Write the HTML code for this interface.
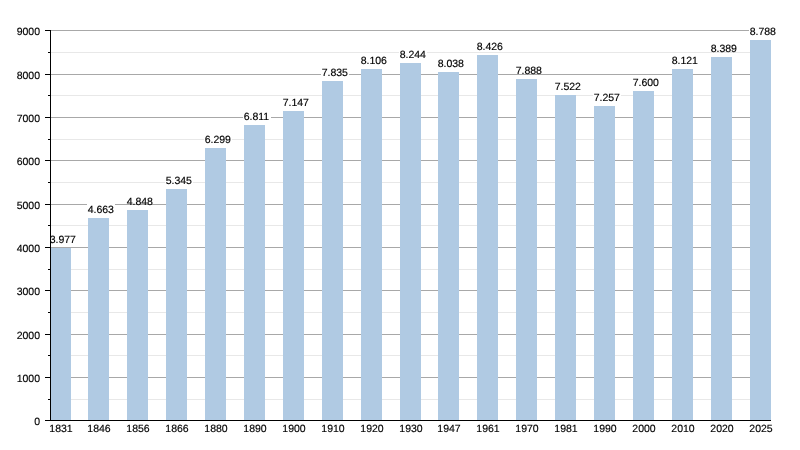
<!DOCTYPE html><html><head><meta charset="utf-8"><style>html,body{margin:0;padding:0;background:#fff;width:800px;height:450px;overflow:hidden}svg{display:block;will-change:transform;}text{text-rendering:geometricPrecision;font-family:"Liberation Sans",sans-serif;font-size:10.5px;fill:#000;stroke:#000;stroke-width:0.15px}</style></head><body>
<svg width="800" height="450" viewBox="0 0 800 450" shape-rendering="crispEdges">
<g>
<defs><clipPath id="pa" clipPathUnits="userSpaceOnUse"><rect x="51" y="0" width="749" height="450"/></clipPath></defs>
<rect x="51" y="399" width="699" height="1" fill="#e8e8e8"/>
<rect x="51" y="377" width="699" height="1" fill="#a8a8a8"/>
<rect x="51" y="355" width="699" height="1" fill="#e8e8e8"/>
<rect x="51" y="334" width="699" height="1" fill="#a8a8a8"/>
<rect x="51" y="312" width="699" height="1" fill="#e8e8e8"/>
<rect x="51" y="290" width="699" height="1" fill="#a8a8a8"/>
<rect x="51" y="269" width="699" height="1" fill="#e8e8e8"/>
<rect x="51" y="247" width="699" height="1" fill="#a8a8a8"/>
<rect x="51" y="225" width="699" height="1" fill="#e8e8e8"/>
<rect x="51" y="204" width="699" height="1" fill="#a8a8a8"/>
<rect x="51" y="182" width="699" height="1" fill="#e8e8e8"/>
<rect x="51" y="160" width="699" height="1" fill="#a8a8a8"/>
<rect x="51" y="139" width="699" height="1" fill="#e8e8e8"/>
<rect x="51" y="117" width="699" height="1" fill="#a8a8a8"/>
<rect x="51" y="95" width="699" height="1" fill="#e8e8e8"/>
<rect x="51" y="74" width="699" height="1" fill="#a8a8a8"/>
<rect x="51" y="52" width="699" height="1" fill="#e8e8e8"/>
<rect x="51" y="30" width="699" height="1" fill="#a8a8a8"/>
<rect x="50" y="248" width="21" height="172" fill="#b0cae3"/>
<rect x="88" y="218" width="21" height="202" fill="#b0cae3"/>
<rect x="127" y="210" width="21" height="210" fill="#b0cae3"/>
<rect x="166" y="189" width="21" height="231" fill="#b0cae3"/>
<rect x="205" y="148" width="21" height="272" fill="#b0cae3"/>
<rect x="244" y="125" width="21" height="295" fill="#b0cae3"/>
<rect x="283" y="111" width="21" height="309" fill="#b0cae3"/>
<rect x="322" y="81" width="21" height="339" fill="#b0cae3"/>
<rect x="361" y="69" width="21" height="351" fill="#b0cae3"/>
<rect x="400" y="63" width="21" height="357" fill="#b0cae3"/>
<rect x="438" y="72" width="21" height="348" fill="#b0cae3"/>
<rect x="477" y="55" width="21" height="365" fill="#b0cae3"/>
<rect x="516" y="79" width="21" height="341" fill="#b0cae3"/>
<rect x="555" y="95" width="21" height="325" fill="#b0cae3"/>
<rect x="594" y="106" width="21" height="314" fill="#b0cae3"/>
<rect x="633" y="91" width="21" height="329" fill="#b0cae3"/>
<rect x="672" y="69" width="21" height="351" fill="#b0cae3"/>
<rect x="711" y="57" width="21" height="363" fill="#b0cae3"/>
<rect x="750" y="40" width="21" height="380" fill="#b0cae3"/>
<rect x="49" y="234" width="28" height="8" fill="#fff"/>
<text x="49.70" y="243.00" clip-path="url(#pa)">3.977</text>
<text x="61.00" y="432.00" text-anchor="middle">1831</text>
<rect x="87" y="204" width="28" height="8" fill="#fff"/>
<text x="87.70" y="213.00" clip-path="url(#pa)">4.663</text>
<text x="99.00" y="432.00" text-anchor="middle">1846</text>
<rect x="126" y="196" width="28" height="8" fill="#fff"/>
<text x="126.70" y="205.00" clip-path="url(#pa)">4.848</text>
<text x="138.00" y="432.00" text-anchor="middle">1856</text>
<rect x="165" y="175" width="28" height="8" fill="#fff"/>
<text x="165.70" y="184.00" clip-path="url(#pa)">5.345</text>
<text x="177.00" y="432.00" text-anchor="middle">1866</text>
<rect x="204" y="134" width="28" height="8" fill="#fff"/>
<text x="204.70" y="143.00" clip-path="url(#pa)">6.299</text>
<text x="216.00" y="432.00" text-anchor="middle">1880</text>
<rect x="243" y="111" width="28" height="8" fill="#fff"/>
<text x="243.70" y="120.00" clip-path="url(#pa)">6.811</text>
<text x="255.00" y="432.00" text-anchor="middle">1890</text>
<rect x="282" y="97" width="28" height="8" fill="#fff"/>
<text x="282.70" y="106.00" clip-path="url(#pa)">7.147</text>
<text x="294.00" y="432.00" text-anchor="middle">1900</text>
<rect x="321" y="67" width="28" height="8" fill="#fff"/>
<text x="321.70" y="76.00" clip-path="url(#pa)">7.835</text>
<text x="333.00" y="432.00" text-anchor="middle">1910</text>
<rect x="360" y="55" width="28" height="8" fill="#fff"/>
<text x="360.70" y="64.00" clip-path="url(#pa)">8.106</text>
<text x="372.00" y="432.00" text-anchor="middle">1920</text>
<rect x="399" y="49" width="28" height="8" fill="#fff"/>
<text x="399.70" y="58.00" clip-path="url(#pa)">8.244</text>
<text x="411.00" y="432.00" text-anchor="middle">1930</text>
<rect x="437" y="58" width="28" height="8" fill="#fff"/>
<text x="437.70" y="67.00" clip-path="url(#pa)">8.038</text>
<text x="449.00" y="432.00" text-anchor="middle">1947</text>
<rect x="476" y="41" width="28" height="8" fill="#fff"/>
<text x="476.70" y="50.00" clip-path="url(#pa)">8.426</text>
<text x="488.00" y="432.00" text-anchor="middle">1961</text>
<rect x="515" y="65" width="28" height="8" fill="#fff"/>
<text x="515.70" y="74.00" clip-path="url(#pa)">7.888</text>
<text x="527.00" y="432.00" text-anchor="middle">1970</text>
<rect x="554" y="81" width="28" height="8" fill="#fff"/>
<text x="554.70" y="90.00" clip-path="url(#pa)">7.522</text>
<text x="566.00" y="432.00" text-anchor="middle">1981</text>
<rect x="593" y="92" width="28" height="8" fill="#fff"/>
<text x="593.70" y="101.00" clip-path="url(#pa)">7.257</text>
<text x="605.00" y="432.00" text-anchor="middle">1990</text>
<rect x="632" y="77" width="28" height="8" fill="#fff"/>
<text x="632.70" y="86.00" clip-path="url(#pa)">7.600</text>
<text x="644.00" y="432.00" text-anchor="middle">2000</text>
<rect x="671" y="55" width="28" height="8" fill="#fff"/>
<text x="671.70" y="64.00" clip-path="url(#pa)">8.121</text>
<text x="683.00" y="432.00" text-anchor="middle">2010</text>
<rect x="710" y="43" width="28" height="8" fill="#fff"/>
<text x="710.70" y="52.00" clip-path="url(#pa)">8.389</text>
<text x="722.00" y="432.00" text-anchor="middle">2020</text>
<rect x="749" y="26" width="28" height="8" fill="#fff"/>
<text x="749.70" y="35.00" clip-path="url(#pa)">8.788</text>
<text x="761.00" y="432.00" text-anchor="middle">2025</text>
<rect x="50" y="30" width="1" height="391" fill="#000"/>
<rect x="45" y="420" width="726" height="1" fill="#000"/>
<rect x="45" y="420" width="5" height="1" fill="#000"/>
<text x="40" y="424.80" text-anchor="end">0</text>
<rect x="48" y="399" width="2" height="1" fill="#000"/>
<rect x="45" y="377" width="5" height="1" fill="#000"/>
<text x="40" y="381.80" text-anchor="end">1000</text>
<rect x="48" y="355" width="2" height="1" fill="#000"/>
<rect x="45" y="334" width="5" height="1" fill="#000"/>
<text x="40" y="338.80" text-anchor="end">2000</text>
<rect x="48" y="312" width="2" height="1" fill="#000"/>
<rect x="45" y="290" width="5" height="1" fill="#000"/>
<text x="40" y="294.80" text-anchor="end">3000</text>
<rect x="48" y="269" width="2" height="1" fill="#000"/>
<rect x="45" y="247" width="5" height="1" fill="#000"/>
<text x="40" y="251.80" text-anchor="end">4000</text>
<rect x="48" y="225" width="2" height="1" fill="#000"/>
<rect x="45" y="204" width="5" height="1" fill="#000"/>
<text x="40" y="208.80" text-anchor="end">5000</text>
<rect x="48" y="182" width="2" height="1" fill="#000"/>
<rect x="45" y="160" width="5" height="1" fill="#000"/>
<text x="40" y="164.80" text-anchor="end">6000</text>
<rect x="48" y="139" width="2" height="1" fill="#000"/>
<rect x="45" y="117" width="5" height="1" fill="#000"/>
<text x="40" y="121.80" text-anchor="end">7000</text>
<rect x="48" y="95" width="2" height="1" fill="#000"/>
<rect x="45" y="74" width="5" height="1" fill="#000"/>
<text x="40" y="78.80" text-anchor="end">8000</text>
<rect x="48" y="52" width="2" height="1" fill="#000"/>
<rect x="45" y="30" width="5" height="1" fill="#000"/>
<text x="40" y="34.80" text-anchor="end">9000</text>
</g></svg></body></html>
